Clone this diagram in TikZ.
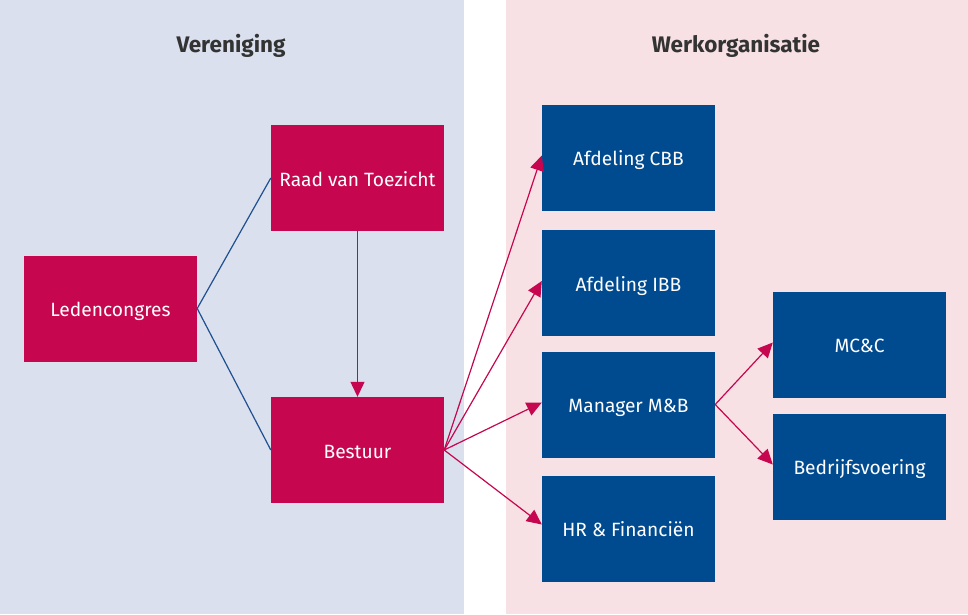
\documentclass[tikz,border=0pt]{standalone}
\usepackage{fontspec}
\setmainfont{Fira Sans}
\usetikzlibrary{arrows.meta}
\definecolor{crim}{HTML}{C6074F}
\definecolor{dblue}{HTML}{004A8F}
\definecolor{lbg}{HTML}{DAE0EE}
\definecolor{rbg}{HTML}{F7E1E4}
\definecolor{lline}{HTML}{1F5090}
\tikzset{
  boxbase/.style={text=white, minimum width=173pt, minimum height=106pt, inner sep=0pt, text height=16pt, text depth=0pt, font=\fontsize{19.2}{22}\selectfont},
  redbox/.style={boxbase, fill=crim},
  bluebox/.style={boxbase, fill=dblue},
  ttl/.style={font=\fontsize{22.5}{26}\selectfont\bfseries, text=black!80},
  bl/.style={draw=lline, line width=1.2pt},
  ra/.style={draw=crim, line width=1.2pt, -{Triangle[length=15pt,width=14pt]}}
}
\begin{document}
\begin{tikzpicture}[x=1pt,y=-1pt]
\useasboundingbox (0,0) rectangle (968,614);
\fill[lbg] (0,0) rectangle (464,614);
\fill[rbg] (506,0) rectangle (968,614);
\node[ttl] (t1) at (231,46) {Vereniging};
\node[ttl] (t2) at (736,46) {Werkorganisatie};
\node[redbox] (led) at (110.5,308.5) {Ledencongres};
\node[redbox] (rvt) at (357.5,178) {Raad van Toezicht};
\node[redbox] (bes) at (357.5,450) {Bestuur};
\node[bluebox] (cbb) at (628.5,157.5) {Afdeling CBB};
\node[bluebox] (ibb) at (628.5,283) {Afdeling IBB};
\node[bluebox] (mmb) at (628.5,404.5) {Manager M\&B};
\node[bluebox] (hrf) at (628.5,528.5) {HR \& Financiën};
\node[bluebox] (mcc) at (859.5,344.5) {MC\&C};
\node[bluebox] (bdv) at (859.5,466.5) {Bedrijfsvoering};
\draw[bl] (rvt.west) -- (led.east) -- (bes.west);
\draw[ra] (rvt.south) -- (bes.north);
\draw[ra] (bes.east) -- ([yshift=2pt]cbb.west);
\draw[ra] (bes.east) -- ([yshift=2pt]ibb.west);
\draw[ra] (bes.east) -- ([yshift=2pt]mmb.west);
\draw[ra] (bes.east) -- ([yshift=4pt]hrf.west);
\draw[ra] (mmb.east) -- ([yshift=2pt]mcc.west);
\draw[ra] (mmb.east) -- ([yshift=2pt]bdv.west);
\end{tikzpicture}
\end{document}
